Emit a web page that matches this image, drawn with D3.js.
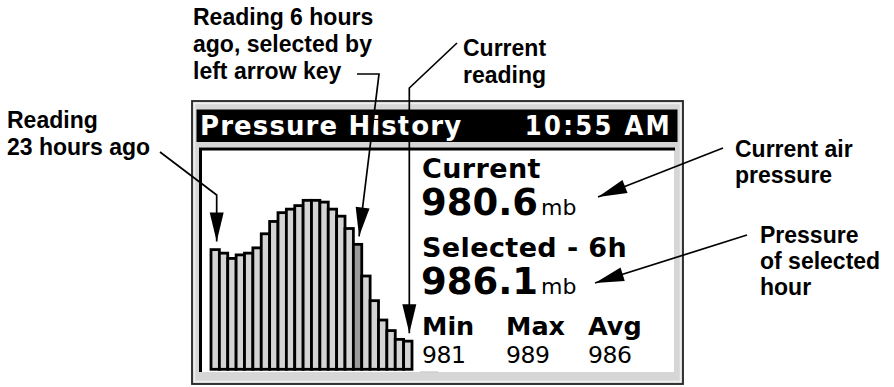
<!DOCTYPE html>
<html>
<head>
<meta charset="utf-8">
<script src="https://cdn.jsdelivr.net/npm/d3@7"></script>
<style>
  html, body { margin: 0; padding: 0; background: #fff; }
  svg { display: block; }
</style>
</head>
<body>
<svg id="chart" width="894" height="387"></svg>
<script>
// 24 hourly barometer readings, oldest (23 h ago) first, in millibars
const hoursAgo = d3.range(23, -1, -1);
const pressure = [985.8, 985.6, 985.3, 985.5, 985.6, 985.9, 986.7, 987.4,
                  987.9, 988.1, 988.3, 988.6, 988.6, 988.5, 988.1, 987.7,
                  987.0, 986.1, 984.3, 982.9, 981.8, 981.2, 980.7, 980.6];
const selectedHoursAgo = 6;
const unit = "mb";
const screenTitle = "Pressure History";
const clockText = "10:55 AM";
const statLabels = ["Min", "Max", "Avg"];

// callout texts
const noteOldest = ["Reading", "23 hours ago"];
const noteSelected = ["Reading 6 hours", "ago, selected by", "left arrow key"];
const noteCurrent = ["Current", "reading"];
const noteCurrentAir = ["Current air", "pressure"];
const noteSelectedPressure = ["Pressure", "of selected", "hour"];

const svg = d3.select("#chart");

// ---- device frame ----
svg.append("rect").attr("x", 192).attr("y", 101).attr("width", 491).attr("height", 283)
  .attr("fill", "#d6d6d6").attr("stroke", "#222").attr("stroke-width", 1.8);
svg.append("rect").attr("x", 194.5).attr("y", 103.5).attr("width", 486).attr("height", 278)
  .attr("fill", "none").attr("stroke", "#efefef").attr("stroke-width", 1.5);
svg.append("rect").attr("x", 196.5).attr("y", 109.5).attr("width", 481).attr("height", 32.5)
  .attr("fill", "#000");
svg.append("rect").attr("x", 199).attr("y", 147.5).attr("width", 475).attr("height", 224.5)
  .attr("fill", "#fff");
svg.append("path").attr("d", "M200.5,372 V149 H675")
  .attr("fill", "none").attr("stroke", "#000").attr("stroke-width", 3);
svg.append("line").attr("x1", 420).attr("x2", 438).attr("y1", 372).attr("y2", 372)
  .attr("stroke", "#cfcfcf").attr("stroke-width", 1.5);

// title bar
svg.append("text").attr("x", 200).attr("y", 135)
  .attr("font-family", "DejaVu Sans").attr("font-weight", "bold")
  .attr("font-size", 26).attr("letter-spacing", 1.1).attr("fill", "#fff")
  .text(screenTitle);
svg.append("text").attr("x", 672).attr("y", 135).attr("text-anchor", "end")
  .attr("font-family", "DejaVu Sans Condensed, DejaVu Sans").attr("font-stretch", "condensed")
  .attr("font-weight", "bold").attr("font-size", 27).attr("letter-spacing", 2.3).attr("fill", "#fff")
  .text(clockText);

// ---- bar history ----
const x = d3.scaleBand().domain(hoursAgo).range([211, 412]).padding(0);
const y = d3.scaleLinear().domain([979, 989]).range([369.3, 193.3]);

svg.append("g").selectAll("rect").data(pressure).join("rect")
  .attr("x", (d, i) => x(hoursAgo[i]))
  .attr("y", d => y(d))
  .attr("width", x.bandwidth())
  .attr("height", d => y.range()[0] - y(d))
  .attr("fill", (d, i) => hoursAgo[i] === selectedHoursAgo ? "#9a9a9a" : "#d4d4d4")
  .attr("stroke", "#000").attr("stroke-width", 2.8);

// ---- readouts ----
const current = pressure[pressure.length - 1];
const selected = pressure[hoursAgo.indexOf(selectedHoursAgo)];
const stats = [d3.min(pressure), d3.max(pressure), d3.mean(pressure)].map(v => Math.round(v));

const lcd = svg.append("g").attr("font-family", "DejaVu Sans").attr("fill", "#000");
function reading(label, value, yLabel, yValue) {
  lcd.append("text").attr("x", 422).attr("y", yLabel).attr("font-weight", "bold")
    .attr("font-size", 27).attr("letter-spacing", 0.4).text(label);
  const t = lcd.append("text").attr("x", 421).attr("y", yValue);
  t.append("tspan").attr("font-weight", "bold").attr("font-size", 37).text(value.toFixed(1));
  t.append("tspan").attr("dx", 3).attr("font-size", 22).text(unit);
}
reading("Current", current, 178, 215);
reading(`Selected - ${selectedHoursAgo}h`, selected, 256.5, 294);

const statX = [422, 506, 588];
statLabels.forEach((s, i) => {
  lcd.append("text").attr("x", statX[i]).attr("y", 335).attr("font-weight", "bold")
    .attr("font-size", 25.5).text(s);
  lcd.append("text").attr("x", statX[i]).attr("y", 363).attr("font-size", 23.5)
    .attr("letter-spacing", -0.5).text(stats[i]);
});

// ---- callouts ----
const defs = svg.append("defs");
defs.append("marker").attr("id", "head").attr("markerUnits", "userSpaceOnUse")
  .attr("viewBox", "-31 -9 32 18").attr("refX", 0).attr("refY", 0)
  .attr("markerWidth", 32).attr("markerHeight", 18).attr("orient", "auto")
  .append("path").attr("d", "M0,0 L-29,-7 L-29,7 Z").attr("fill", "#000");

const notes = svg.append("g").attr("font-family", "Liberation Sans, Arial, sans-serif")
  .attr("font-weight", "bold").attr("font-size", 23).attr("fill", "#000");
function note(lines, x0, y0, step) {
  lines.forEach((l, i) => notes.append("text").attr("x", x0).attr("y", y0 + i * step).text(l));
}
note(noteOldest, 7, 128, 27);
note(noteSelected, 193, 25, 27);
note(noteCurrent, 463, 56, 27);
note(noteCurrentAir, 735, 157, 26);
note(noteSelectedPressure, 760, 243, 26);

const tip = h => {
  const i = hoursAgo.indexOf(h);
  return [x(h) + x.bandwidth() / 2 + 1.5, y(pressure[i]) - 8];
};
const leader = pts => svg.append("path")
  .attr("d", d3.line()(pts)).attr("fill", "none")
  .attr("stroke", "#000").attr("stroke-width", 1.7).attr("marker-end", "url(#head)");

const t23 = tip(23), t6 = tip(selectedHoursAgo), t0 = tip(0);
leader([[160, 152], [t23[0], 195], t23]);
leader([[357, 74], [379, 74], t6]);
leader([[457, 43], [t0[0], 88], t0]);
leader([[723, 148], [598, 197]]);
leader([[747, 235], [595, 283]]);
</script>
</body>
</html>
